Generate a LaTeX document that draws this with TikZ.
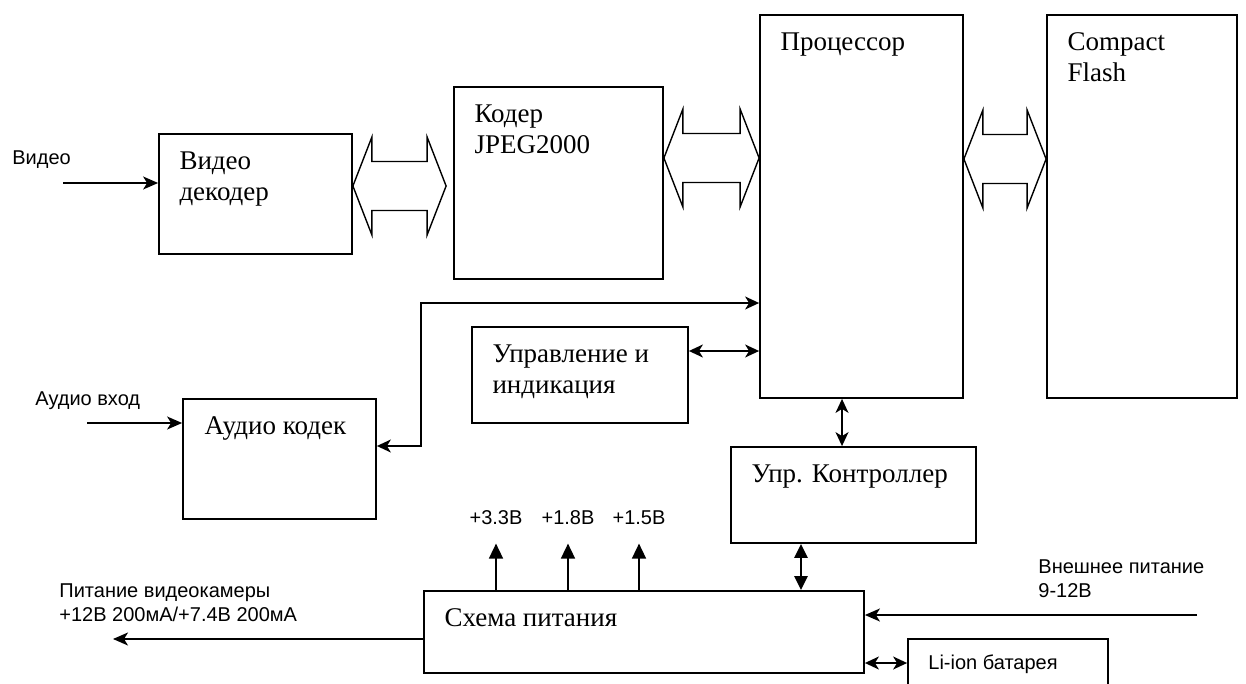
\documentclass[tikz,border=0pt]{standalone}
\usepackage{fontspec}
\setmainfont{Liberation Serif}
\setsansfont{Liberation Sans}
\usetikzlibrary{calc,fit,arrows.meta}

\begin{document}
\begin{tikzpicture}[
    x=0.5pt, y=-0.5pt,
    every node/.style={font=\fontsize{13.5}{15.5}\selectfont},
    blk/.style={draw, line width=0.9pt, inner sep=0pt},
    blktxt/.style={anchor=north west, inner sep=0pt, align=left,
                   font=\fontsize{13.5}{15.5}\selectfont},
    lbl/.style={font=\sffamily\fontsize{10}{12}\selectfont, inner sep=0pt,
                align=left},
    bus/.style={draw, line width=0.7pt, line join=miter},
    sig/.style={line width=0.8pt,
                -{Stealth[length=7.5pt, width=6.5pt, inset=2pt]}},
    sigboth/.style={line width=0.8pt,
                {Stealth[length=7pt, width=6.5pt, inset=2pt]}-{Stealth[length=7pt, width=6.5pt, inset=2pt]}},
    pwr/.style={line width=0.8pt, -{Triangle[length=7.5pt, width=7pt]}},
    pwrboth/.style={line width=1.4pt,
                {Triangle[length=7pt, width=6.5pt]}-{Triangle[length=7pt, width=6.5pt]}},
]

% ── Page ────────────────────────────────────────────────────────
\useasboundingbox (0,0) rectangle (1246,684);
\clip (0,0) rectangle (1246,684);

% ── Blocks ──────────────────────────────────────────────────────
\node[blk, fit={(159,134) (352,254)}]  (vdec)  {};
\node[blk, fit={(454,87) (663,279)}]   (coder) {};
\node[blk, fit={(760,15) (963,398)}]   (proc)  {};
\node[blk, fit={(1047,15) (1237,398)}] (cf)    {};
\node[blk, fit={(472,327) (688,423)}]  (ctrl)  {};
\node[blk, fit={(183,399) (376,519)}]  (acod)  {};
\node[blk, fit={(731,447) (976,543)}]  (upr)   {};
\node[blk, fit={(424,591) (864,673)}]  (psu)   {};
\node[blk, fit={(908,639) (1108,700)}] (lion)  {};

% ── Block texts ─────────────────────────────────────────────────
\node[blktxt] (vdec-t)  at ([shift={(21,18)}]vdec.north west)  {Видео\\декодер};
\node[blktxt] (coder-t) at ([shift={(21,18)}]coder.north west) {Кодер\\JPEG2000};
\node[blktxt] (proc-t)  at ([shift={(21,18)}]proc.north west)  {Процессор};
\node[blktxt] (cf-t)    at ([shift={(21,18)}]cf.north west)    {Compact\\Flash};
\node[blktxt] (ctrl-t)  at ([shift={(21,18)}]ctrl.north west)  {Управление и\\индикация};
\node[blktxt] (acod-t)  at ([shift={(22,18)}]acod.north west)  {Аудио кодек};
\node[blktxt] (upr-t)   at ([shift={(21,18)}]upr.north west)   {Упр. Контроллер};
\node[blktxt] (psu-t)   at ([shift={(21,18)}]psu.north west)   {Схема питания};
\node[lbl, anchor=base west] (lion-t) at (928,669) {Li-ion батарея};

% ── Outside labels ──────────────────────────────────────────────
\node[lbl, anchor=base west] (vin-t) at (12,165) {Видео};
\node[lbl, anchor=base west] (ain-t) at (35,405) {Аудио вход};
\node[lbl, anchor=north west] (cam-t) at (59,583)
  {Питание видеокамеры\\+12В 200мА/+7.4В 200мА};
\node[lbl, anchor=north west] (ext-t) at (1038,559)
  {Внешнее питание\\9-12В};
\node[lbl, anchor=base] (v33) at (496,524) {+3.3В};
\node[lbl, anchor=base] (v18) at (568,524) {+1.8В};
\node[lbl, anchor=base] (v15) at (639,524) {+1.5В};

% ── Data buses ──────────────────────────────────────────────────
\foreach \a/\b/\yc/\gap in {vdec/coder/186/7, coder/proc/158/0, proc/cf/159/0}{
  \coordinate (bc) at (0,\yc);
  \draw[bus] (\a.east |- bc) -- ++(19,-49) -- ++(0,24.5)
    -- ($(\b.west |- bc)+(-19-\gap,-24.5)$) -- ++(0,-24.5)
    -- ($(\b.west |- bc)+(-\gap,0)$) -- ++(-19,49) -- ++(0,-24.5)
    -- ($(\a.east |- bc)+(19,24.5)$) -- ++(0,24.5) -- cycle;
}

% ── Inputs ──────────────────────────────────────────────────────
\coordinate (vin) at (63,183);
\coordinate (ain) at (87,423);
\draw[sig] (vin) -- (vdec.west |- vin);
\draw[sig] (ain) -- (acod.west |- ain);

% ── Audio and control links ─────────────────────────────────────
\coordinate (abus) at (421,446);
\coordinate (atop) at (421,303);
\draw[sigboth] (acod.east |- abus) -- (abus) -- (atop) -- (proc.west |- atop);

\coordinate (ci) at (700,351);
\draw[sigboth] (ctrl.east |- ci) -- (proc.west |- ci);

\coordinate (kx) at (842,0);
\draw[sigboth] (proc.south -| kx) -- (upr.north -| kx);

\coordinate (px) at (801,0);
\draw[pwrboth] (upr.south -| px) -- (psu.north -| px);

% ── Power rails ─────────────────────────────────────────────────
\foreach \v in {v33, v18, v15}{
  \draw[pwr, shorten >=9.5pt] (psu.north -| \v) -- (\v.south);
}

\coordinate (camout) at (113,639);
\draw[sig] (psu.west |- camout) -- (camout);

\coordinate (extin) at (1197,615);
\draw[sig] (extin) -- (psu.east |- extin);

\coordinate (li) at (880,663);
\draw[sigboth] (psu.east |- li) -- (lion.west |- li);

\end{tikzpicture}
\end{document}
